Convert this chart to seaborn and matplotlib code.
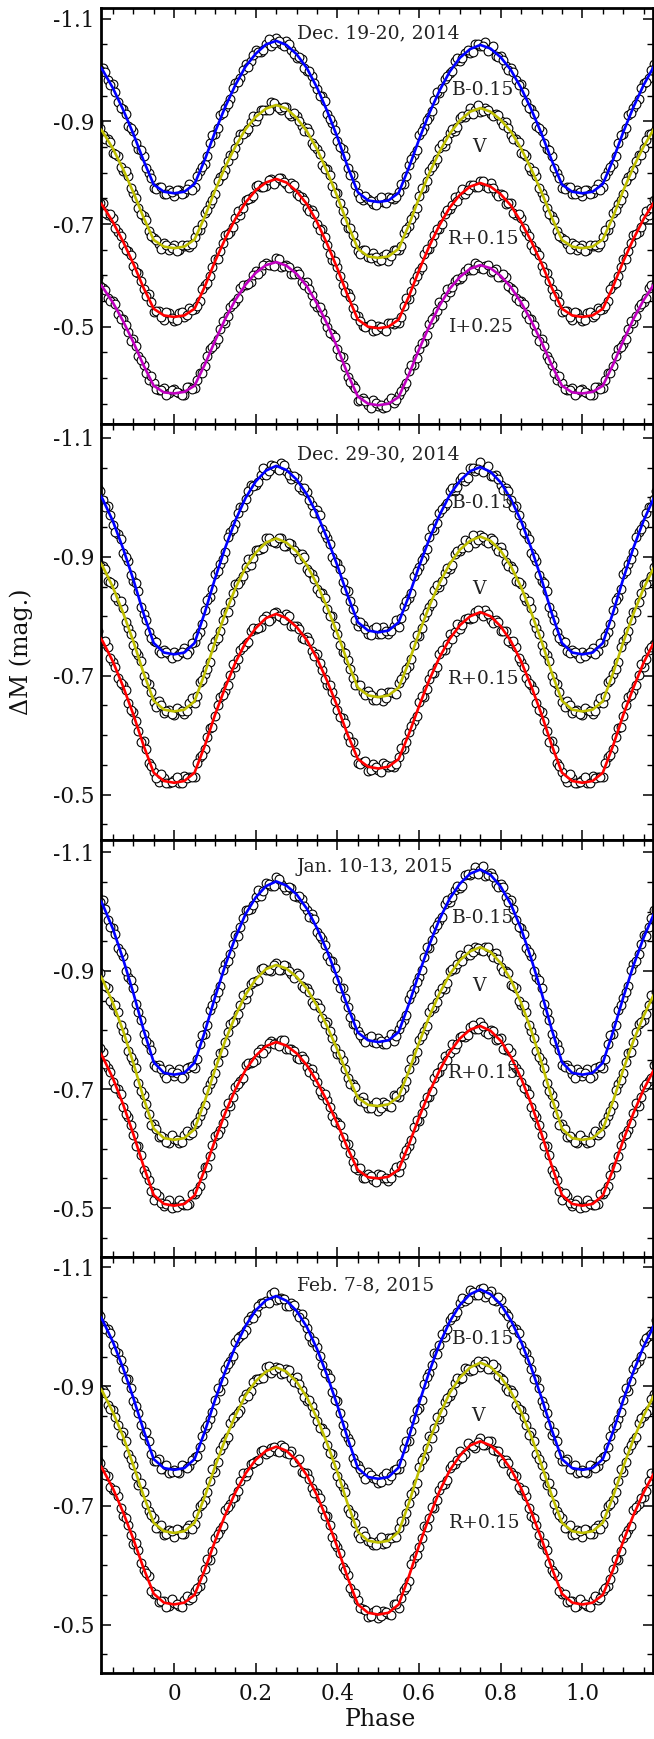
import numpy as np
import pandas as pd
import matplotlib
matplotlib.use("Agg")
import matplotlib.pyplot as plt
from matplotlib.ticker import MultipleLocator
import seaborn as sns

# ---------------- data ----------------
model_phase = [0.000, 0.025, 0.050, 0.075, 0.100, 0.125, 0.150, 0.175, 0.200, 0.225,
               0.250, 0.275, 0.300, 0.325, 0.350, 0.375, 0.400, 0.425, 0.450, 0.475,
               0.500, 0.525, 0.550, 0.575, 0.600, 0.625, 0.650, 0.675, 0.700, 0.725,
               0.750, 0.775, 0.800, 0.825, 0.850, 0.875, 0.900, 0.925, 0.950, 0.975]

obs_phase = [0.0000, 0.0125, 0.0250, 0.0375, 0.0500, 0.0625, 0.0750, 0.0875, 0.1000, 0.1125,
             0.1250, 0.1375, 0.1500, 0.1625, 0.1750, 0.1875, 0.2000, 0.2125, 0.2250, 0.2375,
             0.2500, 0.2625, 0.2750, 0.2875, 0.3000, 0.3125, 0.3250, 0.3375, 0.3500, 0.3625,
             0.3750, 0.3875, 0.4000, 0.4125, 0.4250, 0.4375, 0.4500, 0.4625, 0.4750, 0.4875,
             0.5000, 0.5125, 0.5250, 0.5375, 0.5500, 0.5625, 0.5750, 0.5875, 0.6000, 0.6125,
             0.6250, 0.6375, 0.6500, 0.6625, 0.6750, 0.6875, 0.7000, 0.7125, 0.7250, 0.7375,
             0.7500, 0.7625, 0.7750, 0.7875, 0.8000, 0.8125, 0.8250, 0.8375, 0.8500, 0.8625,
             0.8750, 0.8875, 0.9000, 0.9125, 0.9250, 0.9375, 0.9500, 0.9625, 0.9750, 0.9875]

obs2_phase = [0.00625, 0.01875, 0.03125, 0.04375, 0.05625, 0.06875, 0.08125, 0.09375, 0.10625, 0.11875,
              0.13125, 0.14375, 0.15625, 0.16875, 0.18125, 0.19375, 0.20625, 0.21875, 0.23125, 0.24375,
              0.25625, 0.26875, 0.28125, 0.29375, 0.30625, 0.31875, 0.33125, 0.34375, 0.35625, 0.36875,
              0.38125, 0.39375, 0.40625, 0.41875, 0.43125, 0.44375, 0.45625, 0.46875, 0.48125, 0.49375,
              0.50625, 0.51875, 0.53125, 0.54375, 0.55625, 0.56875, 0.58125, 0.59375, 0.60625, 0.61875,
              0.63125, 0.64375, 0.65625, 0.66875, 0.68125, 0.69375, 0.70625, 0.71875, 0.73125, 0.74375,
              0.75625, 0.76875, 0.78125, 0.79375, 0.80625, 0.81875, 0.83125, 0.84375, 0.85625, 0.86875,
              0.88125, 0.89375, 0.90625, 0.91875, 0.93125, 0.94375, 0.95625, 0.96875, 0.98125, 0.99375]

# ---- Panel 1: Dec. 19-20, 2014 ----
p1_B_model = [-0.760, -0.763, -0.778, -0.825, -0.879, -0.928, -0.971, -1.007, -1.032, -1.050,
              -1.057, -1.049, -1.031, -1.004, -0.966, -0.920, -0.869, -0.812, -0.762, -0.746,
              -0.743, -0.746, -0.761, -0.810, -0.865, -0.916, -0.960, -0.997, -1.024, -1.041,
              -1.049, -1.042, -1.025, -1.000, -0.965, -0.923, -0.876, -0.824, -0.777, -0.763]
p1_V_model = [-0.653, -0.656, -0.670, -0.714, -0.765, -0.811, -0.851, -0.885, -0.909, -0.925,
              -0.932, -0.925, -0.907, -0.881, -0.846, -0.802, -0.753, -0.700, -0.652, -0.637,
              -0.634, -0.637, -0.652, -0.698, -0.751, -0.799, -0.841, -0.876, -0.902, -0.919,
              -0.926, -0.919, -0.903, -0.880, -0.847, -0.807, -0.762, -0.713, -0.669, -0.656]
p1_R_model = [-0.519, -0.522, -0.535, -0.578, -0.627, -0.671, -0.710, -0.742, -0.766, -0.781,
              -0.788, -0.781, -0.764, -0.739, -0.704, -0.661, -0.613, -0.561, -0.514, -0.500,
              -0.497, -0.500, -0.514, -0.559, -0.610, -0.657, -0.698, -0.732, -0.757, -0.773,
              -0.780, -0.773, -0.758, -0.736, -0.704, -0.666, -0.623, -0.576, -0.535, -0.522]
p1_I_model = [-0.370, -0.373, -0.385, -0.426, -0.472, -0.515, -0.552, -0.582, -0.605, -0.620,
              -0.626, -0.619, -0.603, -0.579, -0.545, -0.505, -0.459, -0.408, -0.364, -0.350,
              -0.347, -0.350, -0.363, -0.407, -0.456, -0.501, -0.541, -0.574, -0.597, -0.613,
              -0.620, -0.614, -0.599, -0.577, -0.547, -0.511, -0.470, -0.425, -0.385, -0.372]

p1_B_obs = [-0.755, -0.766, -0.761, -0.778, -0.772, -0.803, -0.817, -0.857, -0.876, -0.912,
            -0.927, -0.943, -0.974, -0.984, -1.011, -1.018, -1.039, -1.035, -1.051, -1.046,
            -1.062, -1.050, -1.057, -1.039, -1.024, -1.021, -0.999, -0.989, -0.964, -0.950,
            -0.914, -0.896, -0.861, -0.846, -0.809, -0.795, -0.761, -0.747, -0.749, -0.740,
            -0.747, -0.743, -0.753, -0.748, -0.762, -0.778, -0.815, -0.835, -0.873, -0.890,
            -0.909, -0.941, -0.955, -0.983, -0.995, -1.018, -1.018, -1.034, -1.033, -1.050,
            -1.046, -1.054, -1.041, -1.027, -1.028, -1.008, -1.004, -0.981, -0.972, -0.938,
            -0.924, -0.892, -0.881, -0.847, -0.832, -0.800, -0.770, -0.773, -0.758, -0.766]
p1_V_obs = [-0.660, -0.649, -0.657, -0.655, -0.675, -0.689, -0.722, -0.739, -0.758, -0.791,
            -0.806, -0.835, -0.849, -0.875, -0.879, -0.898, -0.901, -0.922, -0.922, -0.937,
            -0.931, -0.922, -0.928, -0.911, -0.911, -0.892, -0.888, -0.858, -0.847, -0.816,
            -0.807, -0.775, -0.761, -0.726, -0.693, -0.679, -0.647, -0.649, -0.635, -0.643,
            -0.628, -0.637, -0.629, -0.650, -0.649, -0.683, -0.697, -0.718, -0.754, -0.770,
            -0.803, -0.818, -0.848, -0.853, -0.877, -0.881, -0.907, -0.908, -0.927, -0.922,
            -0.919, -0.926, -0.914, -0.915, -0.901, -0.899, -0.874, -0.865, -0.839, -0.832,
            -0.804, -0.793, -0.761, -0.731, -0.716, -0.686, -0.673, -0.661, -0.663, -0.649]
p1_R_obs = [-0.511, -0.526, -0.519, -0.537, -0.534, -0.550, -0.581, -0.598, -0.631, -0.647,
            -0.678, -0.685, -0.711, -0.718, -0.747, -0.751, -0.774, -0.773, -0.774, -0.788,
            -0.783, -0.789, -0.779, -0.780, -0.758, -0.753, -0.731, -0.727, -0.701, -0.691,
            -0.660, -0.630, -0.616, -0.582, -0.565, -0.536, -0.521, -0.501, -0.501, -0.491,
            -0.502, -0.496, -0.508, -0.506, -0.507, -0.540, -0.554, -0.589, -0.608, -0.641,
            -0.651, -0.679, -0.690, -0.720, -0.729, -0.753, -0.756, -0.758, -0.776, -0.772,
            -0.784, -0.775, -0.780, -0.760, -0.759, -0.739, -0.741, -0.717, -0.712, -0.684,
            -0.659, -0.648, -0.618, -0.604, -0.574, -0.563, -0.529, -0.530, -0.514, -0.526]
p1_I_obs = [-0.378, -0.371, -0.366, -0.382, -0.380, -0.410, -0.424, -0.456, -0.466, -0.495,
            -0.507, -0.539, -0.549, -0.575, -0.581, -0.587, -0.608, -0.608, -0.624, -0.621,
            -0.633, -0.617, -0.620, -0.603, -0.608, -0.588, -0.587, -0.561, -0.538, -0.528,
            -0.500, -0.486, -0.457, -0.441, -0.402, -0.387, -0.356, -0.362, -0.347, -0.357,
            -0.346, -0.342, -0.353, -0.352, -0.367, -0.383, -0.414, -0.426, -0.457, -0.471,
            -0.506, -0.518, -0.549, -0.557, -0.567, -0.589, -0.592, -0.609, -0.611, -0.624,
            -0.614, -0.618, -0.606, -0.612, -0.596, -0.596, -0.576, -0.555, -0.550, -0.524,
            -0.515, -0.489, -0.477, -0.442, -0.426, -0.397, -0.390, -0.376, -0.380, -0.370]
p1_B_obs2 = [-0.767, -0.758, -0.769, -0.767, -0.794, -0.812, -0.833, -0.874, -0.888, -0.917,
             -0.934, -0.966, -0.976, -1.000, -1.006, -1.030, -1.036, -1.040, -1.060, -1.052,
             -1.056, -1.046, -1.051, -1.032, -1.026, -1.004, -0.999, -0.975, -0.949, -0.940,
             -0.904, -0.883, -0.850, -0.832, -0.796, -0.777, -0.751, -0.754, -0.744, -0.738,
             -0.752, -0.742, -0.751, -0.752, -0.779, -0.794, -0.826, -0.844, -0.882, -0.902,
             -0.921, -0.957, -0.966, -0.989, -0.999, -1.023, -1.024, -1.039, -1.036, -1.051,
             -1.046, -1.038, -1.046, -1.026, -1.020, -1.001, -0.997, -0.970, -0.957, -0.927,
             -0.915, -0.887, -0.857, -0.845, -0.809, -0.790, -0.769, -0.773, -0.758, -0.763]
p1_V_obs2 = [-0.647, -0.659, -0.659, -0.661, -0.689, -0.700, -0.728, -0.747, -0.783, -0.796,
             -0.823, -0.834, -0.864, -0.876, -0.885, -0.911, -0.910, -0.922, -0.922, -0.936,
             -0.926, -0.929, -0.914, -0.916, -0.900, -0.882, -0.880, -0.852, -0.836, -0.808,
             -0.796, -0.761, -0.742, -0.706, -0.692, -0.663, -0.642, -0.649, -0.633, -0.636,
             -0.630, -0.642, -0.637, -0.650, -0.657, -0.691, -0.710, -0.732, -0.771, -0.784,
             -0.811, -0.826, -0.856, -0.863, -0.885, -0.889, -0.910, -0.914, -0.915, -0.932,
             -0.921, -0.922, -0.910, -0.913, -0.893, -0.888, -0.865, -0.859, -0.836, -0.811,
             -0.804, -0.770, -0.751, -0.720, -0.708, -0.676, -0.668, -0.652, -0.659, -0.653]
p1_R_obs2 = [-0.514, -0.529, -0.522, -0.533, -0.541, -0.573, -0.586, -0.617, -0.631, -0.664,
             -0.680, -0.694, -0.726, -0.731, -0.749, -0.755, -0.776, -0.773, -0.785, -0.779,
             -0.790, -0.782, -0.771, -0.776, -0.755, -0.746, -0.725, -0.719, -0.689, -0.674,
             -0.642, -0.629, -0.599, -0.568, -0.557, -0.523, -0.512, -0.499, -0.505, -0.494,
             -0.500, -0.492, -0.508, -0.510, -0.519, -0.556, -0.569, -0.598, -0.617, -0.651,
             -0.663, -0.690, -0.700, -0.728, -0.737, -0.745, -0.769, -0.766, -0.776, -0.773,
             -0.784, -0.771, -0.771, -0.755, -0.757, -0.741, -0.722, -0.720, -0.692, -0.677,
             -0.650, -0.640, -0.607, -0.590, -0.559, -0.549, -0.531, -0.519, -0.529, -0.517]
p1_I_obs2 = [-0.372, -0.367, -0.382, -0.378, -0.397, -0.409, -0.442, -0.460, -0.477, -0.512,
             -0.521, -0.544, -0.555, -0.581, -0.584, -0.601, -0.602, -0.620, -0.621, -0.619,
             -0.632, -0.618, -0.616, -0.602, -0.603, -0.581, -0.573, -0.547, -0.539, -0.514,
             -0.488, -0.479, -0.443, -0.422, -0.392, -0.381, -0.357, -0.356, -0.342, -0.352,
             -0.347, -0.343, -0.361, -0.357, -0.375, -0.391, -0.425, -0.440, -0.469, -0.483,
             -0.515, -0.530, -0.543, -0.574, -0.577, -0.592, -0.596, -0.615, -0.611, -0.620,
             -0.612, -0.620, -0.609, -0.597, -0.602, -0.580, -0.571, -0.550, -0.544, -0.516,
             -0.503, -0.473, -0.463, -0.435, -0.409, -0.403, -0.379, -0.376, -0.367, -0.377]

# ---- Panel 2: Dec. 29-30, 2014 ----
p2_B_model = [-0.736, -0.739, -0.755, -0.806, -0.863, -0.915, -0.961, -0.999, -1.027, -1.045,
              -1.053, -1.046, -1.030, -1.005, -0.972, -0.931, -0.885, -0.835, -0.790, -0.776,
              -0.773, -0.776, -0.790, -0.834, -0.884, -0.930, -0.970, -1.004, -1.028, -1.044,
              -1.051, -1.043, -1.025, -0.997, -0.960, -0.914, -0.862, -0.805, -0.755, -0.739]
p2_V_model = [-0.640, -0.643, -0.657, -0.704, -0.756, -0.804, -0.847, -0.882, -0.907, -0.924,
              -0.931, -0.924, -0.909, -0.886, -0.854, -0.815, -0.771, -0.723, -0.680, -0.667,
              -0.664, -0.667, -0.680, -0.723, -0.772, -0.817, -0.856, -0.888, -0.912, -0.927,
              -0.934, -0.927, -0.910, -0.884, -0.849, -0.806, -0.758, -0.705, -0.658, -0.643]
p2_R_model = [-0.520, -0.523, -0.537, -0.582, -0.634, -0.680, -0.722, -0.756, -0.780, -0.797,
              -0.804, -0.797, -0.782, -0.760, -0.729, -0.691, -0.648, -0.601, -0.560, -0.547,
              -0.544, -0.547, -0.560, -0.602, -0.649, -0.693, -0.731, -0.762, -0.785, -0.800,
              -0.807, -0.800, -0.783, -0.758, -0.724, -0.682, -0.635, -0.583, -0.537, -0.523]

p2_B_obs = [-0.740, -0.736, -0.746, -0.741, -0.756, -0.773, -0.811, -0.832, -0.871, -0.888,
            -0.908, -0.941, -0.956, -0.984, -0.997, -1.020, -1.021, -1.037, -1.037, -1.054,
            -1.050, -1.058, -1.045, -1.031, -1.033, -1.013, -1.009, -0.987, -0.979, -0.946,
            -0.932, -0.900, -0.890, -0.857, -0.843, -0.812, -0.783, -0.786, -0.771, -0.779,
            -0.771, -0.782, -0.770, -0.784, -0.782, -0.817, -0.831, -0.867, -0.883, -0.900,
            -0.933, -0.945, -0.974, -0.985, -1.011, -1.010, -1.029, -1.028, -1.049, -1.045,
            -1.059, -1.046, -1.036, -1.037, -1.020, -1.015, -0.995, -0.986, -0.954, -0.938,
            -0.906, -0.893, -0.859, -0.842, -0.804, -0.773, -0.758, -0.742, -0.743, -0.736]
p2_V_obs = [-0.634, -0.643, -0.635, -0.655, -0.654, -0.689, -0.703, -0.723, -0.759, -0.775,
            -0.808, -0.824, -0.854, -0.859, -0.883, -0.887, -0.912, -0.913, -0.932, -0.927,
            -0.924, -0.931, -0.919, -0.921, -0.907, -0.905, -0.880, -0.871, -0.846, -0.840,
            -0.812, -0.801, -0.770, -0.740, -0.726, -0.697, -0.684, -0.672, -0.674, -0.660,
            -0.665, -0.658, -0.672, -0.671, -0.688, -0.701, -0.716, -0.751, -0.767, -0.799,
            -0.815, -0.844, -0.850, -0.873, -0.880, -0.905, -0.909, -0.928, -0.926, -0.924,
            -0.937, -0.926, -0.931, -0.917, -0.917, -0.891, -0.885, -0.859, -0.854, -0.825,
            -0.814, -0.781, -0.751, -0.735, -0.700, -0.686, -0.656, -0.658, -0.637, -0.643]
p2_R_obs = [-0.525, -0.519, -0.531, -0.529, -0.530, -0.563, -0.577, -0.612, -0.632, -0.664,
            -0.674, -0.702, -0.714, -0.744, -0.753, -0.776, -0.779, -0.782, -0.800, -0.796,
            -0.808, -0.799, -0.804, -0.784, -0.783, -0.763, -0.765, -0.742, -0.737, -0.709,
            -0.684, -0.673, -0.643, -0.629, -0.599, -0.588, -0.554, -0.555, -0.539, -0.551,
            -0.541, -0.554, -0.546, -0.547, -0.563, -0.576, -0.606, -0.624, -0.656, -0.665,
            -0.694, -0.704, -0.736, -0.744, -0.770, -0.773, -0.778, -0.796, -0.795, -0.808,
            -0.805, -0.811, -0.794, -0.793, -0.775, -0.776, -0.755, -0.749, -0.723, -0.696,
            -0.685, -0.654, -0.639, -0.607, -0.590, -0.554, -0.538, -0.522, -0.528, -0.519]
p2_B_obs2 = [-0.733, -0.740, -0.736, -0.755, -0.767, -0.787, -0.828, -0.846, -0.877, -0.897,
             -0.933, -0.946, -0.973, -0.983, -1.010, -1.019, -1.026, -1.049, -1.044, -1.052,
             -1.046, -1.054, -1.038, -1.036, -1.017, -1.015, -0.996, -0.974, -0.970, -0.938,
             -0.921, -0.892, -0.879, -0.844, -0.826, -0.794, -0.791, -0.779, -0.769, -0.782,
             -0.771, -0.776, -0.775, -0.793, -0.797, -0.825, -0.840, -0.876, -0.895, -0.913,
             -0.948, -0.957, -0.980, -0.991, -1.016, -1.018, -1.034, -1.033, -1.050, -1.048,
             -1.043, -1.053, -1.036, -1.031, -1.013, -1.010, -0.984, -0.971, -0.942, -0.930,
             -0.900, -0.869, -0.856, -0.816, -0.794, -0.763, -0.757, -0.739, -0.740, -0.730]
p2_V_obs2 = [-0.645, -0.641, -0.641, -0.662, -0.666, -0.693, -0.712, -0.749, -0.764, -0.794,
             -0.808, -0.840, -0.855, -0.867, -0.896, -0.898, -0.912, -0.915, -0.932, -0.925,
             -0.931, -0.919, -0.924, -0.912, -0.897, -0.900, -0.875, -0.863, -0.839, -0.831,
             -0.800, -0.784, -0.752, -0.739, -0.711, -0.685, -0.685, -0.667, -0.667, -0.660,
             -0.671, -0.662, -0.672, -0.670, -0.695, -0.711, -0.729, -0.768, -0.780, -0.807,
             -0.822, -0.852, -0.860, -0.882, -0.887, -0.910, -0.915, -0.917, -0.937, -0.929,
             -0.933, -0.924, -0.929, -0.910, -0.906, -0.884, -0.879, -0.857, -0.832, -0.825,
             -0.791, -0.771, -0.740, -0.724, -0.689, -0.672, -0.647, -0.651, -0.641, -0.635]
p2_R_obs2 = [-0.529, -0.519, -0.528, -0.529, -0.554, -0.567, -0.597, -0.614, -0.650, -0.668,
             -0.685, -0.720, -0.728, -0.749, -0.757, -0.780, -0.780, -0.795, -0.792, -0.806,
             -0.801, -0.793, -0.801, -0.783, -0.778, -0.761, -0.758, -0.733, -0.722, -0.694,
             -0.684, -0.658, -0.630, -0.621, -0.588, -0.571, -0.552, -0.556, -0.542, -0.547,
             -0.538, -0.550, -0.549, -0.551, -0.579, -0.589, -0.615, -0.632, -0.666, -0.678,
             -0.705, -0.715, -0.743, -0.753, -0.762, -0.787, -0.786, -0.797, -0.797, -0.811,
             -0.801, -0.804, -0.789, -0.791, -0.776, -0.758, -0.758, -0.730, -0.715, -0.688,
             -0.676, -0.643, -0.624, -0.589, -0.576, -0.548, -0.528, -0.535, -0.519, -0.522]

# ---- Panel 3: Jan. 10-13, 2015 ----
p3_B_model = [-0.725, -0.728, -0.745, -0.797, -0.855, -0.909, -0.956, -0.996, -1.024, -1.043,
              -1.051, -1.044, -1.029, -1.005, -0.972, -0.933, -0.888, -0.840, -0.796, -0.783,
              -0.780, -0.783, -0.797, -0.844, -0.896, -0.944, -0.987, -1.022, -1.047, -1.064,
              -1.071, -1.062, -1.042, -1.012, -0.971, -0.920, -0.863, -0.801, -0.746, -0.728]
p3_V_model = [-0.615, -0.618, -0.633, -0.680, -0.733, -0.782, -0.824, -0.860, -0.886, -0.903,
              -0.910, -0.904, -0.890, -0.870, -0.841, -0.806, -0.767, -0.724, -0.686, -0.674,
              -0.672, -0.675, -0.688, -0.731, -0.779, -0.823, -0.862, -0.894, -0.918, -0.933,
              -0.940, -0.932, -0.913, -0.885, -0.846, -0.799, -0.745, -0.686, -0.634, -0.618]
p3_R_model = [-0.504, -0.507, -0.521, -0.565, -0.614, -0.660, -0.700, -0.733, -0.757, -0.773,
              -0.780, -0.774, -0.761, -0.741, -0.713, -0.680, -0.642, -0.601, -0.564, -0.552,
              -0.550, -0.553, -0.565, -0.607, -0.653, -0.695, -0.732, -0.763, -0.786, -0.801,
              -0.807, -0.799, -0.782, -0.755, -0.719, -0.675, -0.625, -0.571, -0.522, -0.507]

p3_B_obs = [-0.723, -0.734, -0.722, -0.738, -0.737, -0.776, -0.794, -0.834, -0.854, -0.875,
            -0.912, -0.928, -0.960, -0.974, -1.003, -1.004, -1.025, -1.026, -1.048, -1.044,
            -1.059, -1.047, -1.037, -1.040, -1.024, -1.021, -1.003, -0.996, -0.966, -0.954,
            -0.925, -0.916, -0.885, -0.872, -0.839, -0.811, -0.799, -0.785, -0.787, -0.780,
            -0.787, -0.776, -0.784, -0.782, -0.802, -0.818, -0.852, -0.869, -0.889, -0.923,
            -0.939, -0.970, -0.985, -1.012, -1.016, -1.036, -1.039, -1.061, -1.061, -1.076,
            -1.070, -1.060, -1.065, -1.047, -1.046, -1.025, -1.019, -0.986, -0.972, -0.938,
            -0.925, -0.889, -0.871, -0.831, -0.794, -0.777, -0.741, -0.741, -0.726, -0.734]
p3_V_obs = [-0.616, -0.609, -0.623, -0.623, -0.641, -0.656, -0.673, -0.710, -0.728, -0.762,
            -0.780, -0.810, -0.818, -0.843, -0.852, -0.878, -0.883, -0.903, -0.902, -0.900,
            -0.913, -0.902, -0.908, -0.895, -0.897, -0.874, -0.871, -0.848, -0.846, -0.821,
            -0.814, -0.786, -0.760, -0.749, -0.719, -0.709, -0.684, -0.687, -0.668, -0.674,
            -0.664, -0.679, -0.672, -0.690, -0.687, -0.703, -0.734, -0.750, -0.783, -0.799,
            -0.830, -0.837, -0.863, -0.870, -0.899, -0.903, -0.926, -0.925, -0.926, -0.940,
            -0.935, -0.940, -0.930, -0.930, -0.907, -0.900, -0.877, -0.871, -0.843, -0.831,
            -0.798, -0.765, -0.748, -0.711, -0.690, -0.658, -0.641, -0.620, -0.619, -0.609]
p3_R_obs = [-0.501, -0.514, -0.506, -0.507, -0.524, -0.538, -0.569, -0.588, -0.621, -0.631,
            -0.661, -0.672, -0.705, -0.714, -0.741, -0.744, -0.750, -0.768, -0.768, -0.781,
            -0.778, -0.784, -0.768, -0.769, -0.753, -0.756, -0.738, -0.735, -0.712, -0.690,
            -0.683, -0.656, -0.646, -0.620, -0.608, -0.577, -0.565, -0.550, -0.557, -0.548,
            -0.558, -0.551, -0.546, -0.562, -0.560, -0.590, -0.605, -0.637, -0.647, -0.675,
            -0.687, -0.719, -0.729, -0.756, -0.762, -0.768, -0.789, -0.789, -0.805, -0.802,
            -0.814, -0.797, -0.800, -0.783, -0.787, -0.766, -0.763, -0.736, -0.712, -0.700,
            -0.670, -0.654, -0.623, -0.605, -0.565, -0.548, -0.514, -0.520, -0.504, -0.514]
p3_B_obs2 = [-0.728, -0.720, -0.736, -0.740, -0.752, -0.792, -0.809, -0.842, -0.864, -0.902,
             -0.917, -0.946, -0.959, -0.990, -1.002, -1.011, -1.037, -1.035, -1.046, -1.044,
             -1.055, -1.042, -1.042, -1.026, -1.027, -1.010, -0.991, -0.988, -0.959, -0.944,
             -0.917, -0.905, -0.872, -0.854, -0.822, -0.811, -0.792, -0.780, -0.790, -0.778,
             -0.782, -0.777, -0.793, -0.790, -0.811, -0.825, -0.861, -0.882, -0.902, -0.940,
             -0.952, -0.977, -0.991, -1.019, -1.024, -1.043, -1.044, -1.064, -1.065, -1.063,
             -1.077, -1.061, -1.058, -1.042, -1.041, -1.016, -1.004, -0.974, -0.962, -0.932,
             -0.900, -0.885, -0.845, -0.818, -0.782, -0.766, -0.738, -0.735, -0.720, -0.730]
p3_V_obs2 = [-0.615, -0.611, -0.630, -0.626, -0.646, -0.663, -0.699, -0.716, -0.747, -0.763,
             -0.797, -0.813, -0.827, -0.859, -0.864, -0.881, -0.885, -0.905, -0.901, -0.910,
             -0.902, -0.910, -0.900, -0.888, -0.893, -0.872, -0.864, -0.843, -0.838, -0.811,
             -0.798, -0.770, -0.760, -0.734, -0.709, -0.704, -0.680, -0.678, -0.669, -0.679,
             -0.669, -0.676, -0.671, -0.689, -0.698, -0.714, -0.751, -0.764, -0.791, -0.807,
             -0.839, -0.848, -0.872, -0.879, -0.904, -0.911, -0.916, -0.937, -0.932, -0.939,
             -0.933, -0.940, -0.923, -0.920, -0.899, -0.896, -0.874, -0.850, -0.842, -0.808,
             -0.787, -0.754, -0.736, -0.697, -0.675, -0.640, -0.634, -0.621, -0.611, -0.624]
p3_R_obs2 = [-0.502, -0.507, -0.506, -0.524, -0.528, -0.556, -0.570, -0.606, -0.625, -0.643,
             -0.678, -0.687, -0.709, -0.720, -0.745, -0.747, -0.763, -0.762, -0.779, -0.777,
             -0.773, -0.784, -0.768, -0.765, -0.751, -0.752, -0.730, -0.722, -0.698, -0.692,
             -0.670, -0.646, -0.640, -0.608, -0.593, -0.568, -0.567, -0.551, -0.554, -0.544,
             -0.555, -0.551, -0.550, -0.570, -0.573, -0.598, -0.614, -0.648, -0.660, -0.687,
             -0.697, -0.727, -0.739, -0.749, -0.777, -0.777, -0.791, -0.792, -0.809, -0.802,
             -0.807, -0.794, -0.799, -0.785, -0.769, -0.770, -0.743, -0.729, -0.703, -0.692,
             -0.659, -0.640, -0.605, -0.589, -0.558, -0.528, -0.526, -0.508, -0.507, -0.500]

# ---- Panel 4: Feb. 7-8, 2015 ----
p4_B_model = [-0.760, -0.763, -0.778, -0.824, -0.877, -0.925, -0.967, -1.002, -1.028, -1.045,
              -1.052, -1.044, -1.027, -1.000, -0.963, -0.918, -0.868, -0.813, -0.763, -0.748,
              -0.745, -0.748, -0.764, -0.815, -0.872, -0.925, -0.971, -1.009, -1.037, -1.055,
              -1.063, -1.055, -1.038, -1.011, -0.975, -0.931, -0.881, -0.827, -0.778, -0.763]
p4_V_model = [-0.654, -0.657, -0.671, -0.715, -0.765, -0.811, -0.851, -0.885, -0.909, -0.925,
              -0.932, -0.925, -0.908, -0.882, -0.847, -0.804, -0.756, -0.703, -0.656, -0.641,
              -0.638, -0.641, -0.656, -0.704, -0.759, -0.809, -0.852, -0.889, -0.915, -0.932,
              -0.940, -0.933, -0.916, -0.891, -0.857, -0.816, -0.768, -0.717, -0.671, -0.657]
p4_R_model = [-0.534, -0.537, -0.550, -0.592, -0.640, -0.684, -0.722, -0.754, -0.777, -0.792,
              -0.799, -0.792, -0.776, -0.751, -0.717, -0.676, -0.630, -0.579, -0.534, -0.520,
              -0.517, -0.520, -0.534, -0.581, -0.633, -0.681, -0.724, -0.759, -0.784, -0.801,
              -0.808, -0.801, -0.785, -0.761, -0.729, -0.689, -0.644, -0.595, -0.552, -0.537]

p4_B_obs = [-0.759, -0.755, -0.766, -0.766, -0.782, -0.799, -0.831, -0.845, -0.878, -0.893,
            -0.930, -0.943, -0.975, -0.984, -0.995, -1.018, -1.023, -1.041, -1.043, -1.056,
            -1.046, -1.049, -1.036, -1.041, -1.024, -1.022, -0.999, -0.975, -0.966, -0.936,
            -0.922, -0.891, -0.875, -0.835, -0.814, -0.780, -0.768, -0.753, -0.756, -0.746,
            -0.738, -0.750, -0.743, -0.760, -0.762, -0.797, -0.809, -0.845, -0.864, -0.904,
            -0.922, -0.956, -0.970, -0.983, -1.012, -1.018, -1.041, -1.044, -1.062, -1.053,
            -1.064, -1.051, -1.060, -1.044, -1.046, -1.024, -1.004, -0.996, -0.970, -0.957,
            -0.929, -0.913, -0.875, -0.855, -0.819, -0.808, -0.775, -0.779, -0.762, -0.755]
p4_V_obs = [-0.647, -0.659, -0.652, -0.668, -0.669, -0.700, -0.709, -0.741, -0.757, -0.793,
            -0.808, -0.839, -0.850, -0.861, -0.888, -0.892, -0.913, -0.915, -0.932, -0.923,
            -0.933, -0.921, -0.930, -0.914, -0.916, -0.894, -0.875, -0.868, -0.842, -0.830,
            -0.802, -0.787, -0.750, -0.731, -0.695, -0.685, -0.653, -0.657, -0.640, -0.633,
            -0.641, -0.635, -0.645, -0.647, -0.663, -0.674, -0.705, -0.724, -0.764, -0.781,
            -0.817, -0.830, -0.845, -0.874, -0.884, -0.906, -0.913, -0.931, -0.926, -0.937,
            -0.932, -0.942, -0.930, -0.933, -0.915, -0.897, -0.894, -0.869, -0.861, -0.835,
            -0.823, -0.786, -0.769, -0.735, -0.722, -0.691, -0.679, -0.663, -0.650, -0.659]
p4_R_obs = [-0.537, -0.531, -0.541, -0.542, -0.557, -0.565, -0.593, -0.608, -0.645, -0.659,
            -0.692, -0.702, -0.715, -0.741, -0.749, -0.770, -0.775, -0.792, -0.786, -0.797,
            -0.791, -0.801, -0.789, -0.792, -0.775, -0.757, -0.754, -0.729, -0.721, -0.695,
            -0.683, -0.647, -0.631, -0.597, -0.584, -0.554, -0.542, -0.526, -0.513, -0.522,
            -0.512, -0.523, -0.518, -0.534, -0.528, -0.559, -0.573, -0.612, -0.630, -0.665,
            -0.680, -0.696, -0.727, -0.737, -0.763, -0.770, -0.791, -0.787, -0.802, -0.797,
            -0.813, -0.802, -0.809, -0.792, -0.778, -0.776, -0.756, -0.749, -0.727, -0.716,
            -0.683, -0.668, -0.636, -0.625, -0.592, -0.582, -0.551, -0.538, -0.540, -0.531]
p4_B_obs2 = [-0.756, -0.768, -0.763, -0.776, -0.783, -0.817, -0.836, -0.858, -0.897, -0.910,
             -0.937, -0.952, -0.982, -0.989, -1.011, -1.015, -1.036, -1.040, -1.041, -1.058,
             -1.047, -1.047, -1.035, -1.037, -1.016, -1.009, -0.984, -0.976, -0.951, -0.923,
             -0.914, -0.878, -0.855, -0.822, -0.807, -0.772, -0.761, -0.745, -0.751, -0.745,
             -0.740, -0.755, -0.749, -0.761, -0.772, -0.808, -0.825, -0.860, -0.878, -0.916,
             -0.936, -0.954, -0.989, -0.997, -1.017, -1.025, -1.048, -1.047, -1.059, -1.054,
             -1.065, -1.056, -1.045, -1.050, -1.028, -1.019, -0.997, -0.990, -0.960, -0.944,
             -0.912, -0.898, -0.867, -0.835, -0.823, -0.787, -0.775, -0.762, -0.768, -0.757]
p4_V_obs2 = [-0.661, -0.652, -0.663, -0.661, -0.686, -0.703, -0.722, -0.761, -0.774, -0.801,
             -0.816, -0.847, -0.856, -0.879, -0.884, -0.907, -0.912, -0.915, -0.935, -0.927,
             -0.931, -0.922, -0.927, -0.908, -0.904, -0.882, -0.877, -0.855, -0.830, -0.823,
             -0.789, -0.769, -0.738, -0.722, -0.687, -0.670, -0.645, -0.649, -0.639, -0.633,
             -0.647, -0.637, -0.646, -0.647, -0.674, -0.688, -0.720, -0.738, -0.776, -0.796,
             -0.814, -0.849, -0.858, -0.881, -0.891, -0.915, -0.915, -0.930, -0.927, -0.942,
             -0.937, -0.929, -0.937, -0.917, -0.911, -0.892, -0.889, -0.862, -0.849, -0.819,
             -0.808, -0.779, -0.749, -0.738, -0.703, -0.684, -0.663, -0.667, -0.652, -0.657]
p4_R_obs2 = [-0.534, -0.530, -0.548, -0.544, -0.562, -0.577, -0.610, -0.624, -0.653, -0.666,
             -0.698, -0.712, -0.724, -0.754, -0.757, -0.772, -0.776, -0.794, -0.790, -0.799,
             -0.790, -0.798, -0.787, -0.774, -0.778, -0.754, -0.744, -0.721, -0.713, -0.682,
             -0.667, -0.635, -0.621, -0.591, -0.562, -0.553, -0.528, -0.525, -0.514, -0.524,
             -0.514, -0.521, -0.517, -0.535, -0.545, -0.563, -0.602, -0.617, -0.646, -0.664,
             -0.698, -0.709, -0.735, -0.743, -0.769, -0.777, -0.782, -0.805, -0.800, -0.807,
             -0.801, -0.809, -0.793, -0.791, -0.772, -0.771, -0.752, -0.731, -0.727, -0.696,
             -0.679, -0.650, -0.638, -0.603, -0.586, -0.556, -0.552, -0.540, -0.530, -0.543]

panel_titles = ["Dec. 19-20, 2014", "Dec. 29-30, 2014", "Jan. 10-13, 2015", "Feb. 7-8, 2015"]
band_labels = {"B": "B-0.15", "V": "V", "R": "R+0.15", "I": "I+0.25"}
panel_bands = [
    [("B", p1_B_obs, p1_B_obs2, p1_B_model), ("V", p1_V_obs, p1_V_obs2, p1_V_model),
     ("R", p1_R_obs, p1_R_obs2, p1_R_model), ("I", p1_I_obs, p1_I_obs2, p1_I_model)],
    [("B", p2_B_obs, p2_B_obs2, p2_B_model), ("V", p2_V_obs, p2_V_obs2, p2_V_model),
     ("R", p2_R_obs, p2_R_obs2, p2_R_model)],
    [("B", p3_B_obs, p3_B_obs2, p3_B_model), ("V", p3_V_obs, p3_V_obs2, p3_V_model),
     ("R", p3_R_obs, p3_R_obs2, p3_R_model)],
    [("B", p4_B_obs, p4_B_obs2, p4_B_model), ("V", p4_V_obs, p4_V_obs2, p4_V_model),
     ("R", p4_R_obs, p4_R_obs2, p4_R_model)],
]
x_ticks = [0.0, 0.2, 0.4, 0.6, 0.8, 1.0]
x_tick_labels = ["0", "0.2", "0.4", "0.6", "0.8", "1.0"]
y_ticks = [-1.1, -0.9, -0.7, -0.5]
y_tick_labels = ["-1.1", "-0.9", "-0.7", "-0.5"]

# ---------------- styling / layout ----------------
band_colors = {"B": "#0000ff", "V": "#bfbf00", "R": "#ff0000", "I": "#bf00bf"}
ylims = [(-0.31, -1.121), (-0.423, -1.123), (-0.418, -1.12), (-0.419, -1.118)]
xlim = (-0.179, 1.173)
title_pos = [(0.300, -1.071), (0.300, -1.072), (0.300, -1.075), (0.300, -1.070)]
label_pos = [
    {"B": (0.757, -0.961), "V": (0.747, -0.850), "R": (0.759, -0.671), "I": (0.752, -0.499)},
    {"B": (0.757, -0.990), "V": (0.747, -0.846), "R": (0.759, -0.695)},
    {"B": (0.757, -0.990), "V": (0.747, -0.874), "R": (0.759, -0.728)},
    {"B": (0.757, -0.979), "V": (0.745, -0.850), "R": (0.760, -0.670)},
]

sns.set_theme(style="white")
plt.rcParams["font.family"] = ["DejaVu Serif"]
plt.rcParams["axes.unicode_minus"] = False


def wrap(phase, mag, lo=-0.21, hi=1.21):
    ph = np.asarray(phase, float)
    mg = np.asarray(mag, float)
    p = np.concatenate([ph - 1.0, ph, ph + 1.0])
    m = np.concatenate([mg, mg, mg])
    keep = (p >= lo) & (p <= hi)
    return pd.DataFrame({"phase": p[keep], "mag": m[keep]}).sort_values("phase")


fig, axes = plt.subplots(4, 1, figsize=(6.54, 17.39), dpi=100, sharex=True)
fig.subplots_adjust(left=0.1545, right=0.9985, top=0.9954, bottom=0.0380, hspace=0)

for i, ax in enumerate(axes):
    for band, obs1, obs2, model in panel_bands[i]:
        od = pd.concat([wrap(obs_phase, obs1), wrap(obs2_phase, obs2)], ignore_index=True)
        md = wrap(model_phase, model)
        sns.scatterplot(data=od, x="phase", y="mag", ax=ax, marker="o", s=40,
                        color="white", edgecolor="black", linewidth=0.8,
                        legend=False, zorder=2)
        sns.lineplot(data=md, x="phase", y="mag", ax=ax, color=band_colors[band],
                     lw=1.9, estimator=None, sort=True, legend=False, zorder=3)
        lx, ly = label_pos[i][band]
        ax.text(lx, ly, band_labels[band], ha="center", va="center", fontsize=13.5,
                color="#222222", zorder=4)
    tx, ty = title_pos[i]
    ax.text(tx, ty, panel_titles[i], ha="left", va="center", fontsize=13.5,
            color="#222222", zorder=4)

    ax.set_xlim(*xlim)
    ax.set_ylim(*ylims[i])
    ax.set_yticks(y_ticks, y_tick_labels)
    ax.set_xticks(x_ticks, x_tick_labels)
    ax.xaxis.set_minor_locator(MultipleLocator(0.05))
    ax.yaxis.set_minor_locator(MultipleLocator(0.05))
    ax.tick_params(which="both", direction="in", top=True, right=True,
                   bottom=True, left=True, colors="black", labelcolor="#111111")
    ax.tick_params(which="major", length=7.5, width=1.1, labelsize=15.5)
    ax.tick_params(which="minor", length=4.0, width=1.0)
    ax.tick_params(axis="y", pad=5)
    ax.tick_params(axis="x", pad=7)
    ax.set_xlabel("")
    ax.set_ylabel("")
    for sp in ax.spines.values():
        sp.set_linewidth(2.0)
        sp.set_color("black")
    if i < 3:
        ax.tick_params(axis="x", labelbottom=False)

fig.text(21 / 654, 1 - 652 / 1739, "\u0394M (mag.)", rotation=90, ha="center",
         va="center", fontsize=17, color="#111111")
fig.text(380 / 654, 1 - 1720 / 1739, "Phase", ha="center", va="center",
         fontsize=17, color="#111111")

fig.savefig("out.png", dpi=100)
